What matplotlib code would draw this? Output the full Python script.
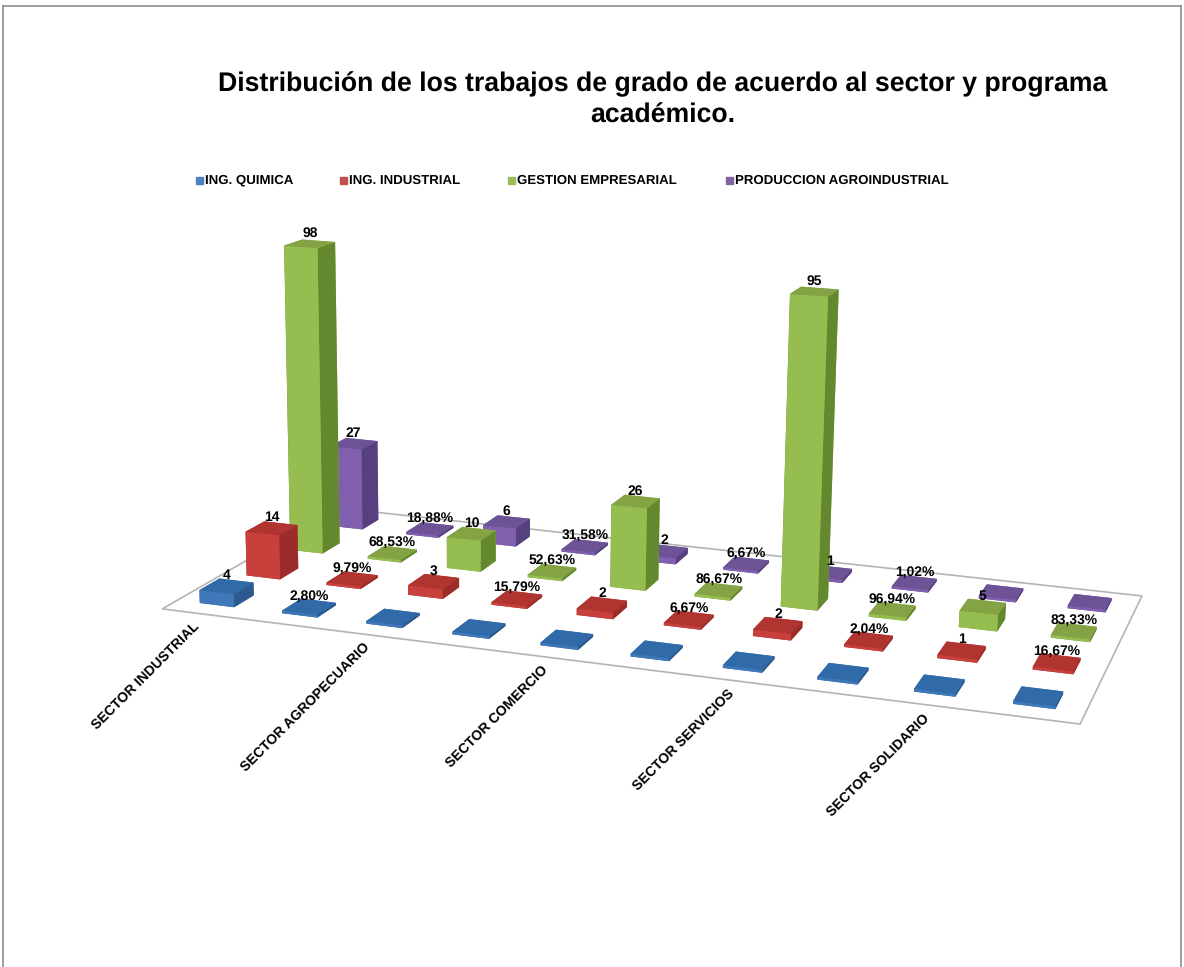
import numpy as np
import matplotlib
matplotlib.use('Agg')
import matplotlib.pyplot as plt
from matplotlib.lines import Line2D
from matplotlib.patches import Rectangle
from mpl_toolkits.mplot3d import proj3d
from mpl_toolkits.mplot3d.art3d import Poly3DCollection

plt.rcParams['font.family'] = ['Liberation Sans', 'DejaVu Sans']
plt.rcParams['text.hinting'] = 'none'

# datos (los % estan guardados como fraccion, por eso salen planos)
sectores = ['SECTOR INDUSTRIAL', 'SECTOR AGROPECUARIO', 'SECTOR COMERCIO', 'SECTOR SERVICIOS', 'SECTOR SOLIDARIO']
programas = ['ING. QUIMICA', 'ING. INDUSTRIAL', 'GESTION EMPRESARIAL', 'PRODUCCION AGROINDUSTRIAL']

ing_quimica = [4, 0.028, 0, 0, 0, 0, 0, 0, 0, 0]
ing_industrial = [14, 0.0979, 3, 0.1579, 2, 0.0667, 2, 0.0204, 1, 0.1667]
gestion = [98, 0.6853, 10, 0.5263, 26, 0.8667, 95, 0.9694, 5, 0.8333]
produccion = [27, 0.1888, 6, 0.3158, 2, 0.0667, 1, 0.0102, 0, 0]

et_quimica = ['4', '2,80%', '', '', '', '', '', '', '', '']
et_industrial = ['14', '9,79%', '3', '15,79%', '2', '6,67%', '2', '2,04%', '1', '16,67%']
et_gestion = ['98', '68,53%', '10', '52,63%', '26', '86,67%', '95', '96,94%', '5', '83,33%']
et_produccion = ['27', '18,88%', '6', '31,58%', '2', '6,67%', '1', '1,02%', '', '']

series = [ing_quimica, ing_industrial, gestion, produccion]
etiquetas = [et_quimica, et_industrial, et_gestion, et_produccion]

# colores por cara: frente, lado derecho, tapa
col_frente = ['#3f78b8', '#c8403c', '#96bd50', '#7f5fae']
col_lado = ['#2c5a8f', '#9c2c2a', '#64882e', '#574080']
col_tapa = ['#316aa8', '#b03531', '#83a345', '#6d5296']
col_leyenda = ['#4f81bd', '#c0504d', '#9bbb59', '#8064a2']

W, H = 1184, 967
AZIM, ELEV, ROLL = -72, 14, -1
CAJA = (10, 4.4, 3.7)

fig = plt.figure(figsize=(W / 100, H / 100), dpi=100, facecolor='white')

# axes cuadrado, en pixeles
lado = 1025
cx, cy = 650, 454
ax = fig.add_axes([(cx - lado / 2) / W, 1 - (cy + lado / 2) / H, lado / W, lado / H], projection='3d')
ax.set_axis_off()
ax.patch.set_alpha(0)
ax.computed_zorder = False
ax.set_proj_type('persp', focal_length=0.45)
ax.view_init(elev=ELEV, azim=AZIM, roll=ROLL)
ax.set_xlim(0, 10)
ax.set_ylim(0, 4)
ax.set_zlim(0, 100)
ax.set_box_aspect(CAJA, zoom=1.0)

# piso
x0, x1 = ax.get_xlim()
y0, y1 = ax.get_ylim()
piso = Poly3DCollection([[(x0, y0, 0), (x1, y0, 0), (x1, y1, 0), (x0, y1, 0)]],
                        facecolor='white', edgecolor='#b4b4b4', linewidth=1.2, zorder=0)
ax.add_collection3d(piso)

M = ax.get_proj()


def a_pantalla(x, y, z):
    px, py, _ = proj3d.proj_transform(x, y, z, M)
    return px, py


# barras, de atras hacia adelante
ancho, fondo = 0.42, 0.42
az = np.deg2rad(AZIM)
sx, sy = CAJA[0] / 10, CAJA[1] / 4
for j, valores in enumerate(series):
    for i, v in enumerate(valores):
        xb = i + 0.5 - ancho / 2
        yb = j + 0.5 - fondo / 2
        dz = max(v, 0.8)
        caras = [col_tapa[j], col_tapa[j], col_frente[j], col_frente[j], col_lado[j], col_lado[j]]
        prof = (i + 0.5) * sx * np.cos(az) + (j + 0.5) * sy * np.sin(az)
        ax.bar3d(xb, yb, 0, ancho, fondo, dz, color=caras, shade=False, zorder=20 + prof)
        if etiquetas[j][i]:
            px, py = a_pantalla(i + 0.5, j + 0.5, dz)
            ax.annotate(etiquetas[j][i], (px, py), xytext=(0, 3), textcoords='offset points', ha='center',
                        va='bottom', fontsize=10, fontweight='bold', color='black', zorder=100)

# nombres de sector
for k, nombre in enumerate(sectores):
    px, py = a_pantalla(2 * k + 0.5, -0.2, 0)
    ax.annotate(nombre, (px, py), rotation=45, rotation_mode='anchor', ha='right', va='top',
                fontsize=10, fontweight='bold', color='black', zorder=100)

# titulo
fig.text(663 / W, 1 - 84 / H, 'Distribución de los trabajos de grado de acuerdo al sector y programa',
         ha='center', va='center', fontsize=19.2, fontweight='bold')
fig.text(663 / W, 1 - 116 / H, 'académico.', ha='center', va='center', fontsize=19.2, fontweight='bold')

# leyenda
pos_leyenda = [196, 340, 508, 726]
for xl, nombre, c in zip(pos_leyenda, programas, col_leyenda):
    fig.add_artist(Rectangle((xl / W, 1 - 184 / H), 7 / W, 7 / H, transform=fig.transFigure, color=c))
    fig.text((xl + 9) / W, 1 - 180.5 / H, nombre, ha='left', va='center', fontsize=9.5, fontweight='bold')

# marco
for xs, ys in [((3, 3), (6, H)), ((3, 1181), (6, 6)), ((1181, 1181), (6, H))]:
    fig.add_artist(Line2D([x / W for x in xs], [1 - y / H for y in ys], color='#8c8c8c', linewidth=1.2))

fig.savefig('out.png', dpi=100)
